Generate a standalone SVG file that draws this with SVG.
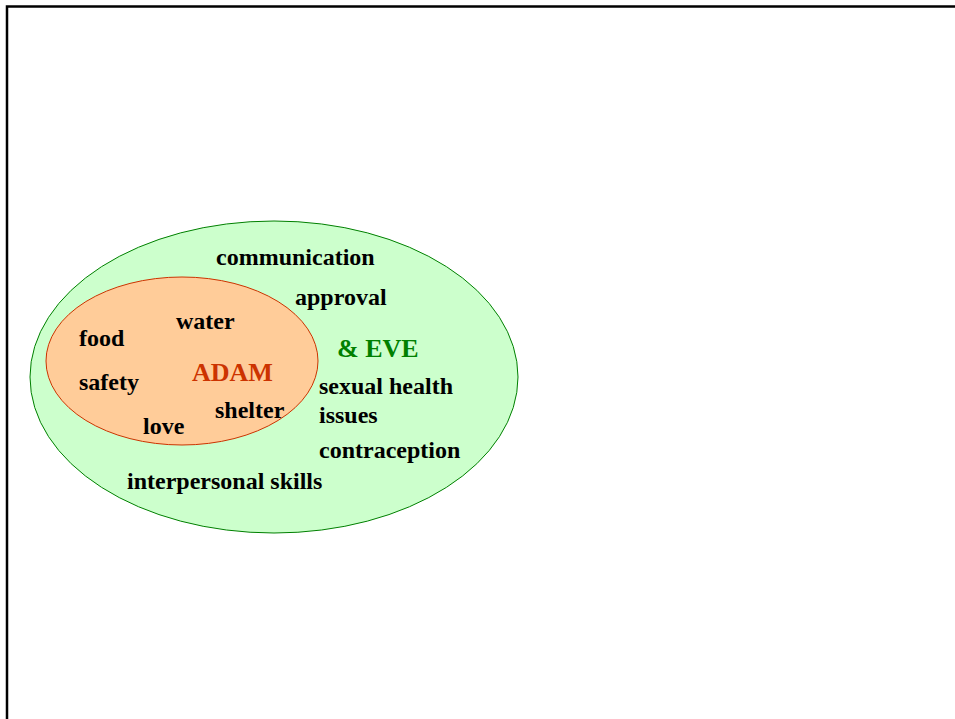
<svg xmlns="http://www.w3.org/2000/svg" width="955" height="719" viewBox="0 0 955 719">
<style>
text{font-family:"Liberation Serif","Times New Roman",serif;font-weight:bold;font-size:24px;fill:#000}
.adam{fill:#CC3300;font-size:26px}
.eve{fill:#008000;font-size:26px}
</style>
<rect width="955" height="719" fill="#fff"/>
<path d="M7 719V6.5H955" fill="none" stroke="#000" stroke-width="2.5"/>
<g id="outer">
<ellipse cx="274" cy="377" rx="244" ry="156" fill="#CCFFCC" stroke="#008000" stroke-width="1"/>
<text x="216" y="265">communication</text>
<text x="295" y="305">approval</text>
<text class="eve" x="337" y="357">&amp; EVE</text>
<text x="319" y="394">sexual health</text>
<text x="319" y="423">issues</text>
<text x="319" y="458">contraception</text>
<text x="127" y="489">interpersonal skills</text>
</g>
<g id="inner">
<ellipse cx="182" cy="361" rx="136" ry="84" fill="#FFCC99" stroke="#CC3300" stroke-width="1"/>
<text x="176" y="329">water</text>
<text x="79" y="346">food</text>
<text class="adam" x="192" y="381">ADAM</text>
<text x="79" y="390">safety</text>
<text x="215" y="418">shelter</text>
<text x="143" y="434">love</text>
</g>
<g id="connectors"/>
</svg>
